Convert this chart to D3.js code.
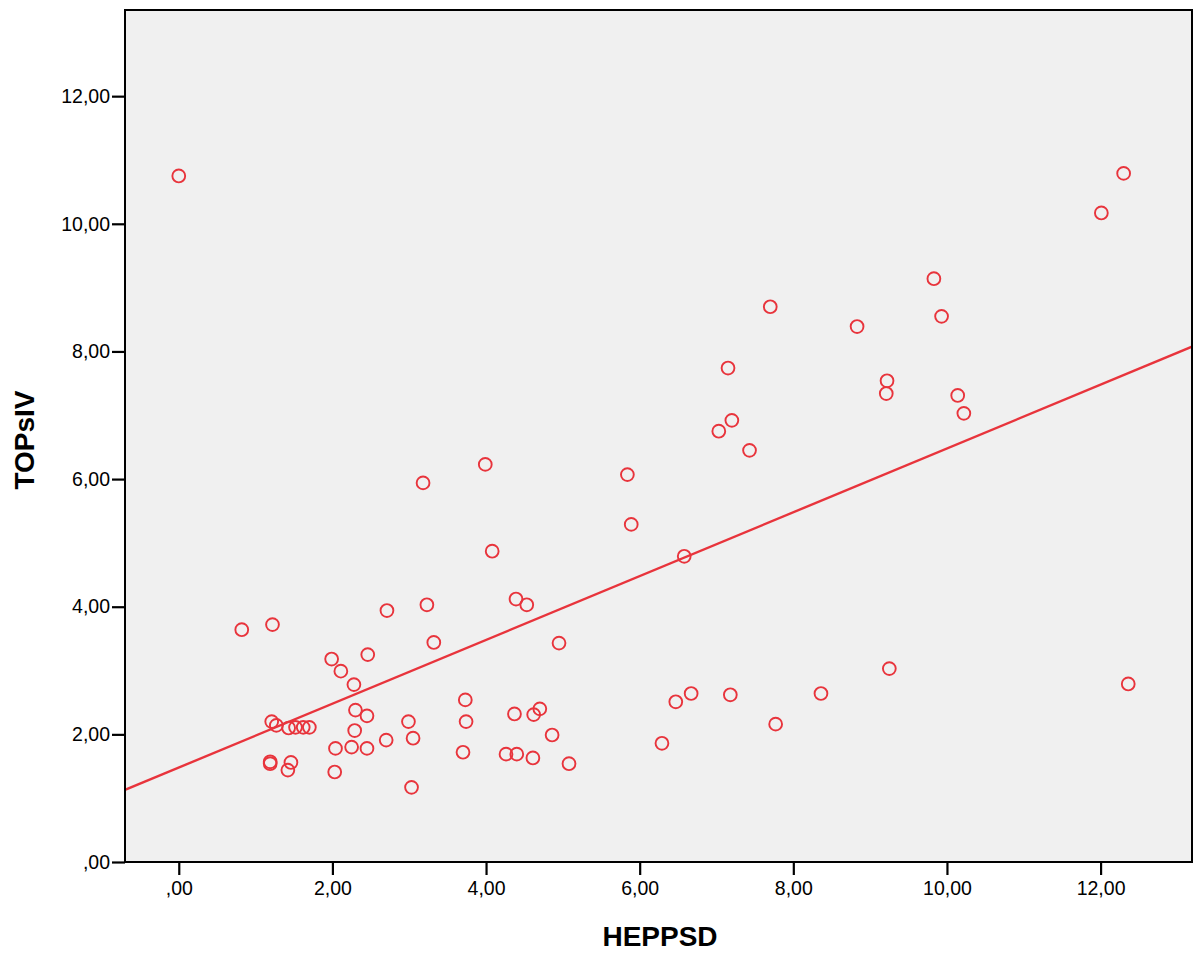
<!DOCTYPE html>
<html>
<head>
<meta charset="utf-8">
<script src="https://cdn.jsdelivr.net/npm/d3@7"></script>
<style>
body { margin: 0; background: #fff; }
text { font-family: "Liberation Sans", Arial, sans-serif; }
</style>
</head>
<body>
<script>
// data
var heppsd = [0.00, 0.82, 1.22, 1.21, 1.27, 1.43, 1.52, 1.62, 1.70, 1.19, 1.19, 1.46, 1.42,
  1.99, 2.11, 2.28, 2.46, 2.71, 3.23, 3.32, 2.30, 2.45, 2.29, 2.99, 3.05, 2.70, 2.04, 2.25,
  2.45, 2.03, 3.03, 3.18, 3.99, 4.08, 4.39, 4.53, 4.95, 3.73, 3.74, 3.70, 4.37, 4.62, 4.70,
  4.86, 4.26, 4.40, 4.61, 5.08, 5.84, 5.89, 6.58, 7.03, 7.20, 7.43, 7.15, 7.70, 8.83, 9.83,
  9.93, 9.22, 9.21, 10.14, 10.22, 12.01, 12.30, 6.29, 6.47, 6.67, 7.18, 7.77, 8.36, 9.25, 12.36];
var topsiv = [10.75, 3.64, 3.72, 2.20, 2.14, 2.10, 2.11, 2.11, 2.11, 1.57, 1.54, 1.56, 1.44,
  3.18, 2.99, 2.78, 3.25, 3.94, 4.03, 3.44, 2.38, 2.29, 2.06, 2.20, 1.94, 1.91, 1.78, 1.80,
  1.78, 1.41, 1.17, 5.94, 6.23, 4.87, 4.12, 4.03, 3.43, 2.54, 2.20, 1.72, 2.32, 2.31, 2.40,
  1.99, 1.69, 1.69, 1.63, 1.54, 6.07, 5.29, 4.79, 6.75, 6.92, 6.45, 7.74, 8.70, 8.39, 9.14,
  8.55, 7.54, 7.34, 7.31, 7.03, 10.17, 10.79, 1.86, 2.51, 2.64, 2.62, 2.16, 2.64, 3.03, 2.79];

var xTicks = [0, 2, 4, 6, 8, 10, 12];
var xTickLabels = [",00", "2,00", "4,00", "6,00", "8,00", "10,00", "12,00"];
var yTicks = [0, 2, 4, 6, 8, 10, 12];
var yTickLabels = [",00", "2,00", "4,00", "6,00", "8,00", "10,00", "12,00"];

// fit line (linear, total)
var fitIntercept = 1.48;
var fitSlope = 0.50;

var xTitle = "HEPPSD";
var yTitle = "TOPsIV";

var svg = d3.select("body").append("svg")
  .attr("width", 1193)
  .attr("height", 954);

var margin = {top: 10, right: 1, bottom: 92, left: 125},
  width = +svg.attr("width") - margin.left - margin.right,
  height = +svg.attr("height") - margin.top - margin.bottom,
  g = svg.append("g").attr("transform", "translate(" + margin.left + "," + margin.top + ")");

var red = "#e8343c";

var x = d3.scaleLinear().domain([-0.70, 13.19]).range([0, width]);
var y = d3.scaleLinear().domain([0, 13.35]).range([height, 0]);

g.append("rect")
  .attr("width", width)
  .attr("height", height)
  .attr("fill", "#f0f0f0");

g.append("clipPath").attr("id", "clip")
  .append("rect").attr("width", width).attr("height", height);

var xDom = x.domain();
g.append("line")
  .attr("clip-path", "url(#clip)")
  .attr("x1", x(xDom[0]))
  .attr("y1", y(fitIntercept + fitSlope * xDom[0]))
  .attr("x2", x(xDom[1]))
  .attr("y2", y(fitIntercept + fitSlope * xDom[1]))
  .attr("stroke", red)
  .attr("stroke-width", 2.4);

var pts = heppsd.map(function(d, i) { return {x: d, y: topsiv[i]}; });

g.selectAll(".dot")
  .data(pts)
  .enter().append("circle")
  .attr("class", "dot")
  .attr("cx", function(d) { return x(d.x); })
  .attr("cy", function(d) { return y(d.y); })
  .attr("r", 6.4)
  .attr("fill", "none")
  .attr("stroke", red)
  .attr("stroke-width", 1.9);

// frame
g.append("rect")
  .attr("width", width)
  .attr("height", height)
  .attr("fill", "none")
  .attr("stroke", "#000")
  .attr("stroke-width", 2);

var xAxis = g.append("g")
  .attr("transform", "translate(0," + height + ")")
  .call(d3.axisBottom(x).tickValues(xTicks).tickSizeOuter(0).tickSize(13).tickPadding(6)
    .tickFormat(function(d, i) { return xTickLabels[i]; }));

var yAxis = g.append("g")
  .call(d3.axisLeft(y).tickValues(yTicks).tickSizeOuter(0).tickSize(13).tickPadding(2)
    .tickFormat(function(d, i) { return yTickLabels[i]; }));

[xAxis, yAxis].forEach(function(ax) {
  ax.select(".domain").remove();
  ax.selectAll(".tick line").attr("stroke", "#000").attr("stroke-width", 2.2);
  ax.selectAll(".tick text")
    .attr("fill", "#000")
    .style("font-size", "19.5px")
    .style("font-family", "'Liberation Sans', Arial, sans-serif");
});

svg.append("text")
  .attr("x", 660)
  .attr("y", 946)
  .attr("text-anchor", "middle")
  .style("font-size", "28px")
  .style("font-weight", "bold")
  .text(xTitle);

svg.append("text")
  .attr("transform", "translate(34,440) rotate(-90)")
  .attr("text-anchor", "middle")
  .style("font-size", "28px")
  .style("font-weight", "bold")
  .text(yTitle);
</script>
</body>
</html>
